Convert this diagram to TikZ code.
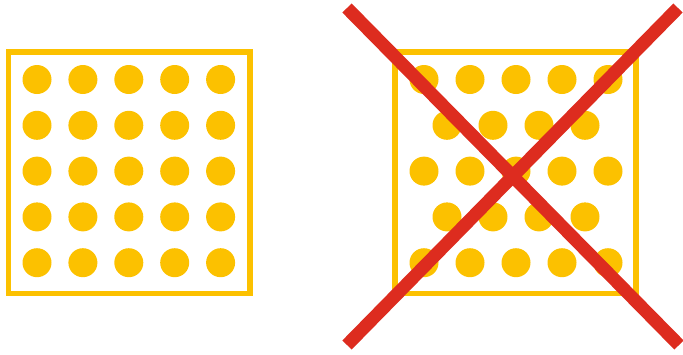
\documentclass[tikz,border=0pt]{standalone}
\definecolor{dotyellow}{HTML}{FCC100}
\definecolor{crossred}{HTML}{DD2C1F}
\begin{document}
\begin{tikzpicture}[x=1pt,y=-1pt,
  frame/.style={draw=dotyellow,line width=5.5pt},
  dot/.style={fill=dotyellow},
  cross/.style={draw=crossred,line width=13pt,line cap=butt}]
\useasboundingbox (0,0) rectangle (683,354);
% left square
\draw[frame] (8.5,52) rectangle (250,293.5);
\foreach \i in {0,...,4}
  \foreach \j in {0,...,4}
    \fill[dot] ({37+45.9*\i},{79.5+45.8*\j}) circle (14.5);
% right square
\draw[frame] (395,52) rectangle (636,293.5);
\foreach \j in {0,2,4}
  \foreach \i in {0,...,4}
    \fill[dot] ({424+46*\i},{79.5+45.8*\j}) circle (14.5);
\foreach \j in {1,3}
  \foreach \i in {0,...,3}
    \fill[dot] ({447+46*\i},{79.5+45.8*\j}) circle (14.5);
% red cross
\coordinate (tl) at (347,8);
\coordinate (br) at (679,345);
\coordinate (bl) at (347,345);
\coordinate (tr) at (678,8);
\draw[cross] (tl) -- (br);
\draw[cross] (bl) -- (tr);
\end{tikzpicture}
\end{document}
